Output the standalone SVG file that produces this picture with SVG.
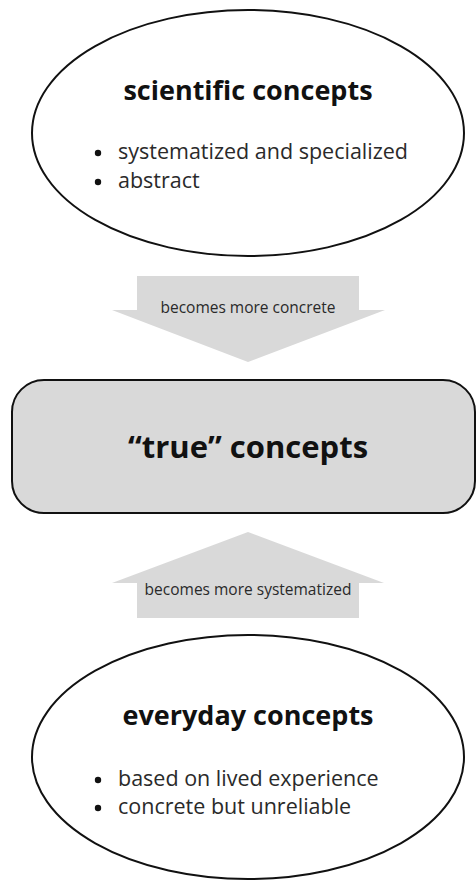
<svg xmlns="http://www.w3.org/2000/svg" width="476" height="881" viewBox="0 0 476 881">
<style>
.node{fill:#fff;stroke:#111;stroke-width:2}
.box{fill:#d9d9d9;stroke:#111;stroke-width:2}
.arrow{fill:#d9d9d9;stroke:none}
.title{font-family:"Open Sans","Liberation Sans",sans-serif;font-weight:700;fill:#111;text-anchor:middle}
.item{font-family:"Open Sans","Liberation Sans",sans-serif;font-size:21.5px;fill:#2a2a2a}
.lbl{font-family:"Open Sans","Liberation Sans",sans-serif;font-size:15.5px;fill:#2a2a2a;text-anchor:middle}
</style>
<rect width="476" height="881" fill="#fff"/>
<g id="connectors">
<g id="arrow-down">
<polygon class="arrow" points="137,276 359,276 359,310 385,310 248,362 112,310 137,310"/>
<text class="lbl" x="248" y="313">becomes more concrete</text>
</g>
<g id="arrow-up">
<polygon class="arrow" points="248,532 384,583 359,583 359,618 137,618 137,583 112,583"/>
<text class="lbl" x="248" y="595">becomes more systematized</text>
</g>
</g>
<g id="scientific">
<ellipse class="node" cx="248" cy="133" rx="216" ry="123"/>
<text class="title" x="248" y="100" font-size="27">scientific concepts</text>
<circle cx="98" cy="153" r="3.2" fill="#111"/>
<text class="item" x="118" y="159">systematized and specialized</text>
<circle cx="98" cy="182" r="3.2" fill="#111"/>
<text class="item" x="118" y="188">abstract</text>
</g>
<g id="true">
<rect class="box" x="12" y="380" width="463" height="133" rx="32"/>
<text class="title" x="248" y="458" font-size="31">“true” concepts</text>
</g>
<g id="everyday">
<ellipse class="node" cx="248" cy="757" rx="216" ry="122"/>
<text class="title" x="248" y="725" font-size="27">everyday concepts</text>
<circle cx="98" cy="780" r="3.2" fill="#111"/>
<text class="item" x="118" y="786">based on lived experience</text>
<circle cx="98" cy="808" r="3.2" fill="#111"/>
<text class="item" x="118" y="814">concrete but unreliable</text>
</g>
</svg>
